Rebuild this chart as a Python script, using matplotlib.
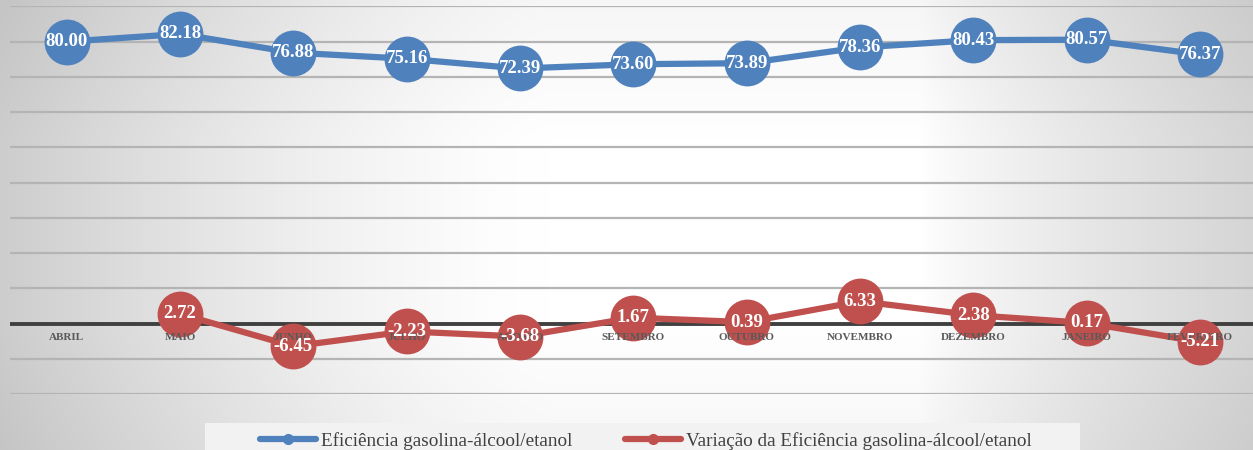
import numpy as np
import matplotlib.pyplot as plt
from matplotlib.patches import Rectangle
from matplotlib.lines import Line2D

plt.rcParams["font.family"] = ["Liberation Serif", "DejaVu Serif"]

meses = ["ABRIL", "MAIO", "JUNHO", "JULHO", "AGOSTO", "SETEMBRO",
         "OUTUBRO", "NOVEMBRO", "DEZEMBRO", "JANEIRO", "FEVEREIRO"]
eficiencia = [80.00, 82.18, 76.88, 75.16, 72.39, 73.60, 73.89, 78.36, 80.43, 80.57, 76.37]
variacao = [np.nan, 2.72, -6.45, -2.23, -3.68, 1.67, 0.39, 6.33, 2.38, 0.17, -5.21]

nome_efic = "Eficiência gasolina-álcool/etanol"
nome_var = "Variação da Eficiência gasolina-álcool/etanol"

AZUL = "#4f81bd"
VERMELHO = "#c0504d"

fig = plt.figure(figsize=(12.53, 4.5), dpi=100)

# fundo: centro branco, escurecendo para as laterais
bg = fig.add_axes([0, 0, 1, 1], zorder=-10)
h, w = 450, 1253
yy, xx = np.mgrid[0:h, 0:w].astype(float)
tl = np.clip((550 - xx) / 550, 0, None)
tr = np.clip((xx - 920) / 333, 0, None)
tv = np.clip((np.abs(yy - 230) - 90) / 400, 0, None)
drop = np.minimum(50 * tl ** 1.4 + 42 * tr ** 0.8 + 25 * tv, 58)
val = (255 - drop) / 255.0
img = np.dstack([val, val, val])
bg.imshow(img, aspect="auto", extent=[0, 1, 0, 1], origin="upper")
bg.set_axis_off()

ax = fig.add_axes([0.008, 0.1244, 0.995, 0.8613])
ax.patch.set_alpha(0)
x = np.arange(len(meses))
ax.set_xlim(-0.5, len(meses) - 0.5)
ax.set_ylim(-20, 90)
for v in range(-20, 91, 10):
    if v == 0:
        continue
    ax.axhline(v, color="#b4b4b4", lw=1.6, zorder=0)
ax.axhline(0, color="#404040", lw=2.8, zorder=1)
for s in ax.spines.values():
    s.set_visible(False)
ax.set_xticks([])
ax.set_yticks([])

ax.plot(x, eficiencia, color=AZUL, lw=4.5, marker="o", ms=33,
        markeredgewidth=0, zorder=3, clip_on=False)
ax.plot(x, variacao, color=VERMELHO, lw=4.5, marker="o", ms=33,
        markeredgewidth=0, zorder=3, clip_on=False)

# rótulos das categorias sobre a linha do zero
for i, m in enumerate(meses):
    ax.annotate(m, (i, 0), xytext=(0, -10), textcoords="offset points",
                ha="center", va="center", fontsize=8, fontweight="bold",
                color="#595959", zorder=4)

for i, v in enumerate(eficiencia):
    ax.text(i, v, f"{v:.2f}", ha="center", va="center", fontsize=13.5,
            fontweight="bold", color="white", zorder=5, clip_on=False)
for i, v in enumerate(variacao):
    if np.isnan(v):
        continue
    ax.text(i, v, f"{v:.2f}", ha="center", va="center", fontsize=13.5,
            fontweight="bold", color="white", zorder=5, clip_on=False)

# caixa da legenda
fig.patches.append(Rectangle((205 / w, 0), 875 / w, 27 / h,
                             transform=fig.transFigure, facecolor="#f2f2f2",
                             edgecolor="none", zorder=-5))
handles = [
    Line2D([], [], color=AZUL, lw=4.5, marker="o", ms=7, solid_capstyle="round"),
    Line2D([], [], color=VERMELHO, lw=4.5, marker="o", ms=7, solid_capstyle="round"),
]
fig.legend(handles, [nome_efic, nome_var], loc="center",
           bbox_to_anchor=(0.5156, 0.02), ncol=2, frameon=False,
           fontsize=13.8, labelcolor="#404040", handlelength=2.9,
           handletextpad=0.26, columnspacing=2.76, borderpad=0)

fig.savefig("out.png", dpi=100)
